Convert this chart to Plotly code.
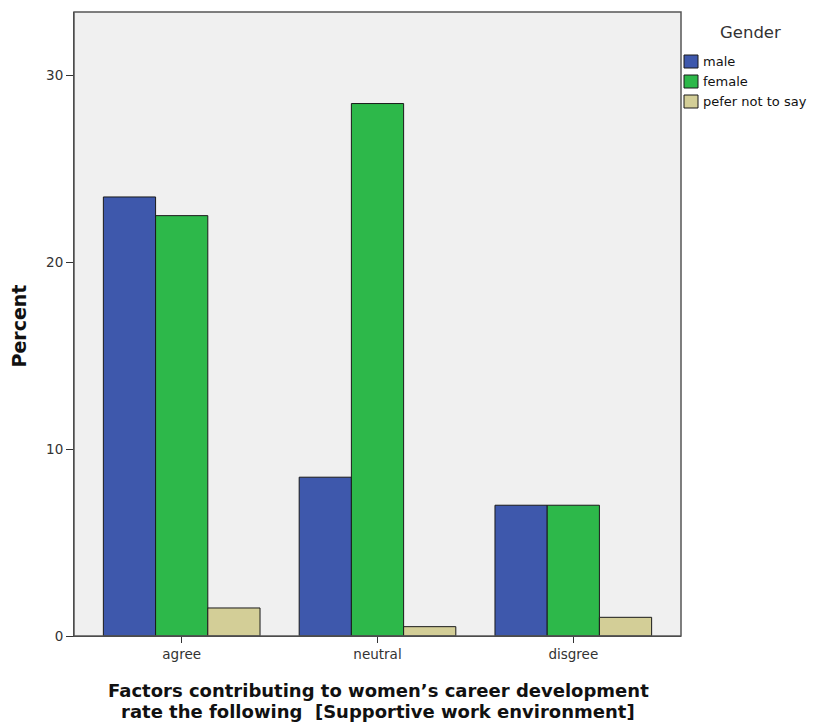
import plotly.graph_objects as go

categories = ["agree", "neutral", "disgree"]
male = [23.5, 8.5, 7.0]
female = [22.5, 28.5, 7.0]
prefer_not = [1.5, 0.5, 1.0]
series_names = ["male", "female", "pefer not to say"]
colors = ["#3E58AC", "#2DB84A", "#D3CE97"]
legend_title = "Gender"
y_title = "Percent"
x_title_lines = ["Factors contributing to women’s career development",
                 "rate the following  [Supportive work environment]"]

FONT = "DejaVu Sans, Verdana, sans-serif"

# page offset of the figure inside the browser body
OFF = 8
W, H = 816 - OFF, 724 - OFF
L, R, T, B = 74, 681, 12, 636  # plot area in screen pixels


def px(X):
    return (X - L) / (R - L)


def py(Y):
    return (B - Y) / (B - T)


fig = go.Figure()
for name, vals, col in zip(series_names, [male, female, prefer_not], colors):
    fig.add_trace(go.Bar(x=categories, y=vals, name=name,
                         marker=dict(color=col, line=dict(color="#1a1a1a", width=1))))

fig.update_layout(
    width=W, height=H,
    barmode="group", bargap=0.2, bargroupgap=0,
    paper_bgcolor="white", plot_bgcolor="#F0F0F0",
    margin=dict(l=L - OFF, r=W - (R - OFF), t=T - OFF, b=H - (B - OFF), autoexpand=False),
    font=dict(family=FONT, size=13, color="#222"),
    showlegend=False,
)
fig.update_xaxes(range=[-0.55, 2.55], showline=True, linecolor="#333", linewidth=1,
                 ticks="outside", ticklen=6, tickcolor="#333",
                 tickfont=dict(size=13.5, color="#333"), showgrid=False)
fig.update_yaxes(range=[0, 33.4], tickvals=[0, 10, 20, 30], showline=True, linecolor="#333",
                 linewidth=1, ticks="outside", ticklen=7, tickcolor="#333", showgrid=False,
                 zeroline=False, tickfont=dict(size=13.5, color="#333"))
# frame
fig.add_shape(type="rect", xref="paper", yref="paper", x0=0, x1=1, y0=0, y1=1,
              line=dict(color="#555", width=1.5))

# axis titles
fig.add_annotation(xref="paper", yref="paper", x=px(18.5), y=py(326), text="<b>%s</b>" % y_title,
                   showarrow=False, textangle=-90, xanchor="center", yanchor="middle",
                   font=dict(size=19, color="#111"))
for i, line in enumerate(x_title_lines):
    fig.add_annotation(xref="paper", yref="paper", x=px(378), y=py(690 + 21 * i),
                       text="<b>%s</b>" % line, showarrow=False,
                       xanchor="center", yanchor="middle",
                       font=dict(size=18, color="#111"))

# manual legend (SPSS style)
fig.add_annotation(xref="paper", yref="paper", x=px(750), y=py(32), text=legend_title,
                   showarrow=False, xanchor="center", yanchor="middle",
                   font=dict(size=16.5, color="#333"))
for i, (name, col) in enumerate(zip(series_names, colors)):
    yc = 61.5 + 20 * i
    fig.add_shape(type="rect", xref="paper", yref="paper",
                  x0=px(684), x1=px(698), y0=py(yc - 6.5), y1=py(yc + 6.5),
                  fillcolor=col, line=dict(color="#1a1a1a", width=1))
    fig.add_annotation(xref="paper", yref="paper", x=px(701), y=py(yc), text=name,
                       showarrow=False, xanchor="left", yanchor="middle",
                       font=dict(size=13, color="#111"))

fig.write_html("out.html")
